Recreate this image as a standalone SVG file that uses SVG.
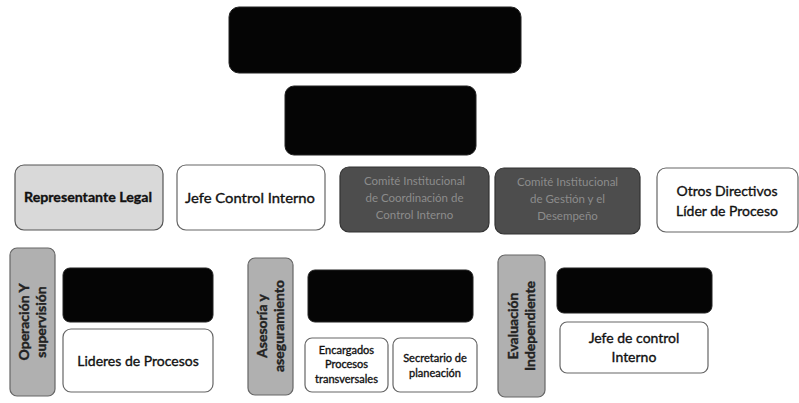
<svg xmlns="http://www.w3.org/2000/svg" width="799" height="403" viewBox="0 0 799 403">
<style>
.blk{fill:#050505;stroke:#222;stroke-width:1}
.wht{fill:#ffffff;stroke:#666;stroke-width:1.2}
.lg{fill:#d9d9d9;stroke:#555;stroke-width:1.2}
.dg{fill:#4d4d4d;stroke:#333;stroke-width:1.2}
.vg{fill:#b0b0b0;stroke:#666;stroke-width:1.2}
text{font-family:Lato,"Noto Sans","Liberation Sans",sans-serif;fill:#111;text-anchor:middle;stroke:#111;stroke-width:0.35}
.t{font-size:14px}
.b{font-weight:bold}
.s{font-size:11px}
.c{fill:#8c8c8c;stroke:none;font-size:11.5px}
.v{font-size:14px;font-weight:bold;fill:#222;stroke:#222;stroke-width:0.4}
</style>
<g id="connectors"/>
<g id="top"><rect class="blk" x="229" y="7" width="292" height="66" rx="10"/></g>
<g id="second"><rect class="blk" x="285" y="86" width="191" height="69" rx="9"/></g>
<g id="representante"><rect class="lg" x="15" y="165" width="148" height="65" rx="9"/><text class="t b" x="88" y="202" textLength="128" lengthAdjust="spacingAndGlyphs">Representante Legal</text></g>
<g id="jefe-control"><rect class="wht" x="177" y="165" width="148" height="65" rx="9"/><text class="t" x="250" y="203" textLength="130" lengthAdjust="spacingAndGlyphs">Jefe Control Interno</text></g>
<g id="comite-coord"><rect class="dg" x="340" y="167" width="149" height="65" rx="9"/><text class="c" x="414.5" y="185">Comité Institucional</text><text class="c" x="414.5" y="202">de Coordinación de</text><text class="c" x="414.5" y="219">Control Interno</text></g>
<g id="comite-gestion"><rect class="dg" x="495" y="168" width="145" height="66" rx="9"/><text class="c" x="567.5" y="186">Comité Institucional</text><text class="c" x="567.5" y="203">de Gestión y el</text><text class="c" x="567.5" y="220">Desempeño</text></g>
<g id="otros"><rect class="wht" x="657" y="168" width="141" height="64" rx="9"/><text class="t" x="727" y="196">Otros Directivos</text><text class="t" x="727" y="216">Líder de Proceso</text></g>
<g id="operacion"><rect class="vg" x="10" y="248" width="45" height="148" rx="7"/><text class="v" transform="translate(29,322) rotate(-90)">Operación Y</text><text class="v" transform="translate(46,322) rotate(-90)">supervisión</text></g>
<g id="dark1"><rect class="blk" x="63" y="268" width="150" height="54" rx="7"/></g>
<g id="lideres"><rect class="wht" x="63" y="329" width="150" height="63" rx="8"/><text class="t" x="138" y="366">Lideres de Procesos</text></g>
<g id="asesoria"><rect class="vg" x="248" y="258" width="45" height="137" rx="7"/><text class="v" transform="translate(267,326) rotate(-90)">Asesoría y</text><text class="v" transform="translate(284,326) rotate(-90)">aseguramiento</text></g>
<g id="dark2"><rect class="blk" x="308" y="270" width="165" height="52" rx="7"/></g>
<g id="encargados"><rect class="wht" x="305" y="338" width="83" height="54" rx="7"/><text class="s" x="346.5" y="354">Encargados</text><text class="s" x="346.5" y="368">Procesos</text><text class="s" x="346.5" y="383">transversales</text></g>
<g id="secretario"><rect class="wht" x="393" y="338" width="84" height="54" rx="7"/><text class="s" x="435" y="362">Secretario de</text><text class="s" x="435" y="377">planeación</text></g>
<g id="evaluacion"><rect class="vg" x="498" y="255" width="47" height="142" rx="7"/><text class="v" transform="translate(518,326) rotate(-90)">Evaluación</text><text class="v" transform="translate(535,326) rotate(-90)">Independiente</text></g>
<g id="dark3"><rect class="blk" x="557" y="268" width="155" height="45" rx="7"/></g>
<g id="jefe-ci"><rect class="wht" x="560" y="322" width="148" height="51" rx="7"/><text class="t" x="634" y="343">Jefe de control</text><text class="t" x="634" y="362">Interno</text></g>
</svg>
